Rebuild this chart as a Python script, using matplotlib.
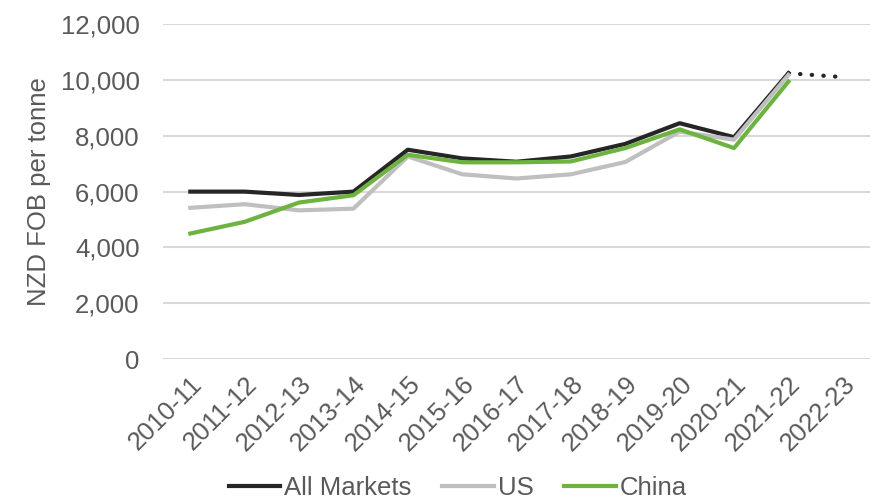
import numpy as np
import matplotlib.pyplot as plt

plt.rcParams['font.family'] = ['Liberation Sans', 'DejaVu Sans']

# Dados do grafico
anos = ['2010-11', '2011-12', '2012-13', '2013-14', '2014-15', '2015-16', '2016-17',
        '2017-18', '2018-19', '2019-20', '2020-21', '2021-22', '2022-23']
all_markets = [6000, 6000, 5880, 6000, 7500, 7190, 7070, 7260, 7710, 8450, 7950, 10240]
all_markets_prev = [10240, 10100]  # 2021-22 -> 2022-23 (previsao, pontilhado)
us = [5420, 5550, 5330, 5390, 7260, 6620, 6470, 6620, 7060, 8150, 7860, 10180]
china = [4500, 4920, 5610, 5870, 7320, 7050, 7050, 7080, 7560, 8230, 7560, 9940]

cinza_texto = '#595959'

fig = plt.figure(figsize=(8.77, 5.01), dpi=100)
ax = fig.add_axes([0.186, 0.283, 0.806, 0.669])

x = np.arange(len(anos))
n = len(all_markets)
ax.plot(x[:n], all_markets, color='#262626', lw=3, label='All Markets', zorder=3)
ax.plot(x[n - 1:n + 1], all_markets_prev, color='#262626', lw=3, linestyle=(0, (0.1, 2.7)),
        dash_capstyle='round', zorder=3)
ax.plot(x[:n], us, color='#bfbfbf', lw=3, label='US', zorder=4)
ax.plot(x[:n], china, color='#6db33f', lw=3, label='China', zorder=5)

ax.set_ylim(0, 12000)
ax.set_xlim(-0.5, len(anos) - 0.5)
ax.set_yticks(range(0, 12001, 2000))
ax.yaxis.set_major_formatter(plt.FuncFormatter(lambda v, p: f'{int(v):,}'))
ax.set_xticks(x)
ax.set_xticklabels(anos, rotation=45, ha='right', rotation_mode='anchor')

ax.grid(axis='y', color='#d9d9d9', lw=1.5)
ax.set_axisbelow(True)
for s in ax.spines.values():
    s.set_visible(False)
ax.tick_params(axis='both', length=0, labelsize=18.5, colors=cinza_texto)
ax.tick_params(axis='y', pad=17)
ax.tick_params(axis='x', pad=9)

ax.set_ylabel('NZD FOB per tonne', fontsize=18.5, color=cinza_texto, labelpad=7)

leg = fig.legend(loc='lower center', bbox_to_anchor=(0.522, -0.045), ncol=3, frameon=False,
                 fontsize=18.5, handlelength=2.0, handletextpad=0.15, columnspacing=1.2)
for t in leg.get_texts():
    t.set_color(cinza_texto)

plt.savefig('out.png', dpi=100)
